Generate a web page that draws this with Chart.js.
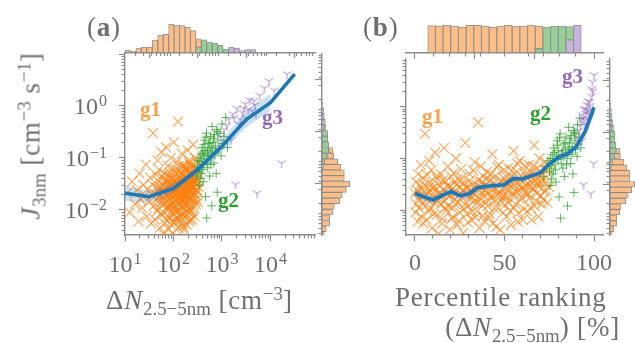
<!DOCTYPE html>
<html>
<head>
<meta charset="utf-8">
<script src="https://cdn.jsdelivr.net/npm/chart.js@4.4.1/dist/chart.umd.min.js"></script>
<style>
  html, body { margin: 0; padding: 0; background: #fff; }
  #wrap { position: relative; width: 635px; height: 343px; overflow: hidden;
          font-family: "Liberation Serif", "DejaVu Serif", serif; color: #6f6f6f; }
  #wrap canvas { position: absolute; left: 0; top: 0; }
  .t { position: absolute; white-space: nowrap; line-height: 1; font-size: 27px; letter-spacing: 0.8px; }
  .t sub, .t sup { font-size: 0.7em; position: relative; vertical-align: baseline; line-height: 0; letter-spacing: 0; }
  .t sub { top: 0.3em; }
  .t sup { top: -0.5em; }
  .g { position: absolute; line-height: 1; font-size: 21px; font-weight: bold; }
  .ylab { left: 31px; top: 136px; transform: translate(-50%, -50%) rotate(-90deg); }
</style>
</head>
<body>
<div id="wrap">
  <canvas id="topA" width="635" height="343"></canvas>
  <canvas id="rightA" width="635" height="343"></canvas>
  <canvas id="mainA" width="635" height="343"></canvas>
  <canvas id="topB" width="635" height="343"></canvas>
  <canvas id="rightB" width="635" height="343"></canvas>
  <canvas id="mainB" width="635" height="343"></canvas>

  <div class="t" style="left:87px;top:14px;">(<b>a</b>)</div>
  <div class="t" style="left:363px;top:14px;">(<b>b</b>)</div>
  <div class="t ylab"><i>J</i><sub>3nm</sub> [cm<sup>−3</sup> s<sup>−1</sup>]</div>
  <div class="t" style="left:106px;top:287px;">Δ<i>N</i><sub>2.5−5nm</sub> [cm<sup>−3</sup>]</div>
  <div class="t" style="left:395px;top:284px;">Percentile ranking</div>
  <div class="t" style="right:15px;top:314px;">(Δ<i>N</i><sub>2.5−5nm</sub>) [%]</div>

  <div class="g" style="left:140px;top:99px;color:#ff7f0e;opacity:0.75;">g1</div>
  <div class="g" style="left:218px;top:190px;color:#2ca02c;">g2</div>
  <div class="g" style="left:262px;top:107px;color:#9467bd;">g3</div>
  <div class="g" style="left:422px;top:106px;color:#ff7f0e;opacity:0.75;">g1</div>
  <div class="g" style="left:530px;top:103px;color:#2ca02c;">g2</div>
  <div class="g" style="left:562px;top:66px;color:#9467bd;">g3</div>
</div>

<script>
// ---- scatter groups, panel (a): dN [cm-3] and J [cm-3 s-1] ----
const g1N = [11, 12.5, 14, 16, 17.5, 19, 20, 21, 22.5, 24, 25.5, 27, 28, 29, 31, 33, 34.5, 36,
  37, 38, 39, 40.5, 41.5, 43, 44, 45, 46, 47,
  48, 49, 50, 51, 52, 53, 54, 55.5, 56.5, 57.5, 58.5, 59.5, 60.5, 61,
  62, 63.5, 65, 66, 67.5, 69, 70, 71.5, 73, 74, 75, 76.5, 77.5, 78.5, 79,
  80, 81, 82, 83, 84, 85, 86.5, 88, 89, 90, 91, 92, 93.5, 94.5, 95.5, 96.5, 97.5, 98.5, 99.5, 100, 101, 102, 102.5,
  104, 106, 108, 110, 112, 114, 116, 118, 120, 122, 124, 125, 126, 127, 128, 129, 130, 131, 131.5, 132, 132.5, 133,
  135, 137, 139, 141, 143, 145, 147, 149, 151, 153, 155, 157, 159, 161, 163, 165, 167, 169, 170, 171, 172, 173,
  175, 178, 181, 184, 187, 190, 193, 196, 199, 202, 205, 208, 210, 212, 214, 216, 218, 220, 221, 222, 223,
  227, 231, 235, 239, 243, 247, 251, 255, 259, 263, 267, 271, 275, 279, 282, 285, 287, 289,
  295, 302, 307, 312, 316, 321, 327,
  52.5, 55, 58, 60, 63, 66.5, 68, 72, 75.5, 78,
  81.5, 84.5, 87, 89.5, 92.5, 95, 97, 99, 101.5,
  105, 107, 109, 111, 113, 115, 117, 119, 121, 123,
  134, 136, 138, 140, 142, 144, 146, 148, 150, 152, 154, 156, 158, 160, 162, 164, 166, 168,
  174, 177, 180, 183, 186, 189, 192, 195, 198, 201, 204, 207, 209, 211, 213, 215, 217, 219,
  225, 229, 233, 237, 241, 245, 249, 253, 257, 261, 265, 269,
  292, 298, 304, 310];
const g1J = [0.021, 0.009, 0.035, 0.013, 0.024, 0.006, 0.05, 0.016, 0.011, 0.03, 0.019, 0.075, 0.0075, 0.025, 0.014, 0.042, 0.0055, 0.019,
  0.031, 0.3, 0.012, 0.021, 0.0065, 0.048, 0.016, 0.027, 0.0095, 0.09,
  0.022, 0.035, 0.011, 0.06, 0.0045, 0.018, 0.028, 0.014, 0.13, 0.024, 0.008, 0.04, 0.017, 0.0035,
  0.03, 0.013, 0.05, 0.02, 0.0068, 0.025, 0.16, 0.015, 0.036, 0.0098, 0.021, 0.07, 0.012, 0.028, 0.0042,
  0.019, 0.045, 0.011, 0.026, 0.0072, 0.034, 0.016, 0.1, 0.022, 0.0052, 0.04, 0.014, 0.029, 0.009, 0.062, 0.018, 0.024, 0.0036, 0.033, 0.013, 0.2, 0.021, 0.0085,
  0.027, 0.012, 0.05, 0.019, 0.0065, 0.032, 0.015, 0.085, 0.024, 0.0095, 0.5, 0.039, 0.017, 0.0045, 0.028, 0.07, 0.013, 0.022, 0.035, 0.0078, 0.045, 0.019,
  0.03, 0.014, 0.055, 0.021, 0.0072, 0.038, 0.017, 0.12, 0.026, 0.011, 0.046, 0.0048, 0.02, 0.075, 0.033, 0.015, 0.025, 0.0088, 0.06, 0.019, 0.041, 0.0125,
  0.035, 0.018, 0.065, 0.026, 0.0095, 0.045, 0.021, 0.14, 0.03, 0.013, 0.055, 0.006, 0.024, 0.09, 0.038, 0.017, 0.028, 0.0105, 0.07, 0.022, 0.048,
  0.042, 0.02, 0.075, 0.03, 0.011, 0.055, 0.025, 0.18, 0.036, 0.015, 0.065, 0.0075, 0.028, 0.1, 0.045, 0.019, 0.034, 0.013,
  0.05, 0.023, 0.085, 0.035, 0.014, 0.06, 0.028,
  0.026, 0.0085, 0.045, 0.015, 0.022, 0.0055, 0.038, 0.011, 0.029, 0.019,
  0.007, 0.052, 0.013, 0.031, 0.0062, 0.021, 0.042, 0.0105, 0.027,
  0.0058, 0.036, 0.016, 0.024, 0.0095, 0.058, 0.02, 0.0072, 0.031, 0.014,
  0.0062, 0.024, 0.04, 0.012, 0.028, 0.0085, 0.05, 0.019, 0.0055, 0.034, 0.015, 0.026, 0.068, 0.011, 0.022, 0.0042, 0.037, 0.017,
  0.026, 0.0075, 0.042, 0.014, 0.03, 0.0052, 0.058, 0.019, 0.011, 0.035, 0.023, 0.08, 0.0088, 0.031, 0.016, 0.046, 0.0065, 0.025,
  0.03, 0.0095, 0.05, 0.017, 0.036, 0.0065, 0.027, 0.07, 0.012, 0.042, 0.021, 0.034,
  0.038, 0.016, 0.06, 0.024];
const g2N = [300, 320, 340, 355, 370, 380, 390, 400, 410, 420, 430, 450, 460, 480, 485,
  495, 510, 525, 555, 570, 585, 600, 615, 625, 640, 660, 680, 700, 740, 760, 780, 800,
  830, 870, 910, 1000, 1040, 1100, 1200, 1300,
  310, 335, 350, 365, 375, 395, 405, 425, 445, 465, 490, 505, 530, 560, 590, 620, 670, 720, 820, 960];
const g2J = [0.045, 0.09, 0.03, 0.065, 0.12, 0.05, 0.16, 0.075, 0.035, 0.11, 0.22, 0.14, 0.018, 0.3, 0.007,
  0.12, 0.065, 0.19, 0.045, 0.15, 0.26, 0.1, 0.012, 0.4, 0.13, 0.2, 0.08, 0.28, 0.17, 0.05, 0.35, 0.022,
  0.22, 0.15, 0.3, 0.45, 0.19, 0.26, 0.6, 0.16,
  0.07, 0.055, 0.1, 0.04, 0.085, 0.13, 0.06, 0.18, 0.095, 0.25, 0.08, 0.14, 0.11, 0.2, 0.075, 0.16, 0.24, 0.12, 0.32, 0.11];
const g3N = [950, 1100, 1250, 1400, 1550, 1700, 1800, 1900, 2000, 2200, 2400, 2600, 2800, 3000, 3300, 3500, 3700,
  4200, 4500, 4800, 5000, 5300, 6000, 7500, 9300, 12000, 17000, 22000];
const g3J = [0.25, 0.35, 0.42, 0.55, 0.22, 0.7, 0.6, 0.031, 0.9, 0.45, 0.55, 0.75, 0.9, 1.1, 0.6, 0.85, 1.3,
  0.8, 1.25, 1.05, 0.7, 0.021, 1.6, 2.2, 3.0, 2.0, 0.08, 4.1];

// ---- binned medians and their band ----
const medAN = [10, 31.6, 100, 316, 1000, 3160, 10000, 31600];
const medAJ = [0.021, 0.018, 0.026, 0.06, 0.168, 0.55, 1.16, 4.1];
const bandAN = [10, 31.6, 100, 316, 1000, 3160, 10000];
const bandALo = [0.015, 0.014, 0.022, 0.052, 0.13, 0.38, 0.8];
const bandAHi = [0.03, 0.024, 0.032, 0.07, 0.22, 0.8, 1.7];

const medBP = [0, 5, 10, 15, 20, 25, 30, 35, 40, 45, 50, 55, 60, 65, 70, 75, 80, 85, 90, 95, 100];
const medBJ = [0.021, 0.018, 0.0157, 0.019, 0.0227, 0.019, 0.0205, 0.027, 0.029, 0.030, 0.031, 0.041, 0.040, 0.046, 0.053, 0.078, 0.104, 0.122, 0.168, 0.33, 0.97];
const bandBLo = [0.017, 0.015, 0.013, 0.016, 0.019, 0.016, 0.017, 0.023, 0.025, 0.026, 0.027, 0.035, 0.035, 0.04, 0.046, 0.068, 0.09, 0.105, 0.14, 0.26, 0.7];
const bandBHi = [0.026, 0.022, 0.019, 0.023, 0.027, 0.023, 0.025, 0.032, 0.034, 0.035, 0.036, 0.048, 0.046, 0.053, 0.061, 0.09, 0.12, 0.142, 0.2, 0.42, 1.3];

// ---- marginal histograms (bar heights) ----
// top (a): log10(dN) bins starting at 1.0, width 0.1125
const histALog0 = 1.0, histALogW = 0.1125;
const histAOr = [8, 6, 15, 18, 18, 39, 54, 57, 87, 85, 83, 78, 68, 25, 0, 0, 0, 0, 0, 0, 0, 0, 0, 0, 0, 0];
const histAGr = [0, 0, 0, 0, 0, 0, 0, 0, 0, 0, 0, 0, 0, 18, 40, 33, 30, 23, 12, 0, 0, 0, 0, 0, 0, 0];
const histAPu = [0, 0, 0, 0, 0, 0, 0, 0, 0, 0, 0, 0, 0, 0, 0, 0, 0, 0, 0, 18, 15, 7, 10, 10, 3, 2];
// top (b): percentile bins of 5 %
const histBOr = [83, 82, 84, 82, 79, 84, 84, 82, 79, 82, 84, 82, 82, 85, 69, 0, 0, 0, 0, 0];
const histBGr = [0, 0, 0, 0, 0, 0, 0, 0, 0, 0, 0, 0, 0, 0, 13, 79, 82, 82, 40, 0];
const histBPu = [0, 0, 0, 0, 0, 0, 0, 0, 0, 0, 0, 0, 0, 0, 0, 0, 0, 0, 40, 84];
// right (a) and (b): log10(J) bins starting at -2.526, width 0.108
const histJLog0 = -2.526, histJLogW = 0.108;
const histJOr = [7, 13, 23, 23, 33, 37, 53, 61, 73, 83, 67, 67, 54, 40, 20, 13, 0, 0, 0, 0, 0, 0, 0, 0];
const histJGr = [0, 0, 0, 0, 0, 0, 0, 0, 0, 0, 0, 0, 3, 7, 15, 20, 20, 17, 17, 7, 4, 0, 0, 0];
const histJPu = [0, 0, 0, 0, 0, 0, 0, 0, 0, 0, 0, 0, 0, 0, 0, 0, 0, 0, 0, 5, 6, 7, 5, 3];

// ---- styles ----
const SERIF = '"Liberation Serif", "DejaVu Serif", serif';
const AX = '#8c8c8c';
const TXT = '#6f6f6f';
const BLUE = '#1f77b4';
const BAND = 'rgba(31,119,180,0.22)';
const HIST = { or: '#ffbe86', gr: '#97d097', pu: '#c9b4de', edge: 'rgba(125,125,125,0.8)' };
const NMIN = 10, NMAX = 83000, JMIN = 0.0033, JMAXA = 10, JMAXB = 8.4;

// ---- helpers ----
const pts = (xs, ys) => xs.map((x, i) => ({ x: x, y: ys[i] }));
const pad = (l, t, r, b) => ({ left: l, top: t, right: 635 - r, bottom: 343 - b });
const zeroW = s => { s.width = 0; };
const zeroH = s => { s.height = 0; };
const setTicks = vals => s => { s.ticks = vals.map(v => ({ value: v })); };

function logVals(min, max, major) {
  const out = [];
  for (let e = Math.floor(Math.log10(min)); e <= Math.ceil(Math.log10(max)); e++) {
    for (let k = 1; k < 10; k++) {
      const v = k * Math.pow(10, e);
      if (v >= min * 0.999 && v <= max * 1.001 && ((k === 1) === major)) out.push(v);
    }
  }
  return out;
}

function tickAxis(type, position, min, max, vals, len, border) {
  const horiz = position === 'bottom' || position === 'top';
  return {
    type: type, position: position, min: min, max: max, bounds: 'data',
    afterFit: horiz ? zeroH : zeroW,
    afterBuildTicks: setTicks(vals),
    ticks: { display: false, autoSkip: false },
    grid: { display: true, drawOnChartArea: false, drawTicks: true, tickLength: len, tickColor: AX, tickWidth: 1.2 },
    border: { display: border, color: AX, width: 1.4 }
  };
}

function hiddenAxis(type, min, max, vals) {
  const a = { type: type, min: min, max: max, bounds: 'data', display: false, stacked: true };
  if (vals) a.afterBuildTicks = setTicks(vals);
  return a;
}

function powLabels(id, side) {
  return {
    id: 'pow_' + id,
    afterDraw(chart) {
      const s = chart.scales[id], ctx = chart.ctx, a = chart.chartArea;
      ctx.save();
      ctx.fillStyle = TXT;
      ctx.textBaseline = 'alphabetic';
      s.ticks.forEach(t => {
        const e = Math.round(Math.log10(t.value));
        if (side === 'bottom' && t.value > 10001) return;
        if (side === 'left' && t.value > 1.01) return;
        const sup = (e < 0 ? '\u2212' : '') + Math.abs(e);
        const p = s.getPixelForValue(t.value);
        ctx.font = '24px ' + SERIF;
        const w1 = ctx.measureText('10').width;
        ctx.font = '16px ' + SERIF;
        const w2 = ctx.measureText(sup).width + 1;
        let x0, y0;
        if (side === 'left') { x0 = a.left - 18 - w1 - w2; y0 = p + 8; }
        else { x0 = p - (w1 + w2) / 2; y0 = a.bottom + 36.5; }
        ctx.font = '24px ' + SERIF;
        ctx.fillText('10', x0, y0);
        ctx.font = '16px ' + SERIF;
        ctx.fillText(sup, x0 + w1 + 1, y0 - 8);
      });
      ctx.restore();
    }
  };
}

function plainLabels(id, texts) {
  return {
    id: 'plain_' + id,
    afterDraw(chart) {
      const s = chart.scales[id], ctx = chart.ctx, a = chart.chartArea;
      ctx.save();
      ctx.fillStyle = TXT;
      ctx.font = '24px ' + SERIF;
      ctx.textAlign = 'center';
      ctx.textBaseline = 'alphabetic';
      s.ticks.forEach(t => ctx.fillText(texts(t.value), s.getPixelForValue(t.value), a.bottom + 35));
      ctx.restore();
    }
  };
}

function triDown(color, r) {
  const c = document.createElement('canvas');
  c.width = c.height = 2 * r + 2;
  const g = c.getContext('2d'), m = r + 1;
  g.strokeStyle = color;
  g.lineWidth = 1;
  g.beginPath();
  g.moveTo(m, m); g.lineTo(m, m + r);
  g.moveTo(m, m); g.lineTo(m - r * 0.87, m - r * 0.5);
  g.moveTo(m, m); g.lineTo(m + r * 0.87, m - r * 0.5);
  g.stroke();
  return c;
}

function baseOptions(padding, scales) {
  return {
    responsive: false, animation: false, events: [],
    layout: { padding: padding },
    plugins: { legend: { display: false }, tooltip: { enabled: false } },
    scales: scales
  };
}

const nz = v => (v === 0 ? null : v);
function barSets(or, gr, pu, pos, horiz) {
  const mk = (vals, color) => ({
    data: vals.map((v, i) => horiz ? { x: nz(v), y: pos[i] } : { x: pos[i], y: nz(v) }),
    backgroundColor: color, borderColor: HIST.edge, borderWidth: 1, borderSkipped: false,
    barPercentage: 1, categoryPercentage: 1
  });
  // stacked from the axis outward: purple, green, orange
  return [mk(pu, HIST.pu), mk(gr, HIST.gr), mk(or, HIST.or)];
}

function scatterSets(xs1, xs2, xs3, medX, medY, bX, bLo, bHi) {
  return [
    { type: 'line', data: pts(medX, medY), borderColor: BLUE, borderWidth: 3.6, pointRadius: 0, fill: false, tension: 0, clip: 0, order: 0 },
    { type: 'line', data: pts(bX, bHi), borderColor: 'transparent', borderWidth: 0, pointRadius: 0, fill: '+1', backgroundColor: BAND, tension: 0.3, clip: 0, order: 1 },
    { type: 'line', data: pts(bX, bLo), borderColor: 'transparent', borderWidth: 0, pointRadius: 0, fill: false, tension: 0.3, clip: 0, order: 1 },
    { data: pts(xs3, g3J), pointStyle: triDown('rgba(148,103,189,0.75)', 5), pointRadius: 5, clip: 0, order: 2 },
    { data: pts(xs2, g2J), pointStyle: 'cross', pointRadius: 4.5, pointBorderColor: 'rgba(44,160,44,0.75)', pointBorderWidth: 1, clip: 0, order: 3 },
    { data: pts(xs1, g1J), pointStyle: 'crossRot', pointRadius: 7, pointBorderColor: 'rgba(255,127,14,0.7)', pointBorderWidth: 1.1, clip: 0, order: 4 }
  ];
}

// ---- panel (a) main ----
new Chart(document.getElementById('mainA'), {
  type: 'scatter',
  data: { datasets: scatterSets(g1N, g2N, g3N, medAN, medAJ, bandAN, bandALo, bandAHi) },
  options: baseOptions(pad(125, 54, 315, 235), {
    x: tickAxis('logarithmic', 'bottom', NMIN, NMAX, logVals(NMIN, NMAX, true), 6, true),
    xm: tickAxis('logarithmic', 'bottom', NMIN, NMAX, logVals(NMIN, NMAX, false), 3.5, false),
    y: tickAxis('logarithmic', 'left', JMIN, JMAXA, logVals(JMIN, JMAXA, true), 6, true),
    ym: tickAxis('logarithmic', 'left', JMIN, JMAXA, logVals(JMIN, JMAXA, false), 3.5, false)
  }),
  plugins: [powLabels('x', 'bottom'), powLabels('y', 'left')]
});

// ---- panel (a) top histogram ----
const histACenters = histAOr.map((_, i) => Math.pow(10, histALog0 + histALogW * (i + 0.5)));
new Chart(document.getElementById('topA'), {
  type: 'bar',
  data: { datasets: barSets(histAOr, histAGr, histAPu, histACenters, false) },
  options: baseOptions(pad(125, 24, 315, 53), {
    x: hiddenAxis('logarithmic', NMIN, NMAX, histACenters),
    y: hiddenAxis('linear', 0, 88),
    xt: tickAxis('logarithmic', 'bottom', NMIN, NMAX, logVals(NMIN, NMAX, true), 5, true),
    xm: tickAxis('logarithmic', 'bottom', NMIN, NMAX, logVals(NMIN, NMAX, false), 3, false)
  })
});

// ---- right histograms (J), shared by both panels ----
const histJCenters = histJOr.map((_, i) => Math.pow(10, histJLog0 + histJLogW * (i + 0.5)));
function rightHist(id, l, t, r, jmax) {
  const o = baseOptions(pad(l, t, r, 235), {
    y: hiddenAxis('logarithmic', JMIN, jmax, histJCenters),
    x: hiddenAxis('linear', 0, 84),
    yt: tickAxis('logarithmic', 'left', JMIN, jmax, logVals(JMIN, jmax, true), 7, true),
    ym: tickAxis('logarithmic', 'left', JMIN, jmax, logVals(JMIN, jmax, false), 3.5, false)
  });
  o.indexAxis = 'y';
  new Chart(document.getElementById(id), {
    type: 'bar',
    data: { datasets: barSets(histJOr, histJGr, histJPu, histJCenters, true) },
    options: o
  });
}
rightHist('rightA', 322, 54, 350, JMAXA);
rightHist('rightB', 610, 59, 635, JMAXB);

// ---- panel (b): percentile ranking of dN ----
const allN = g1N.concat(g2N, g3N).sort((a, b) => a - b);
const pctRank = v => 100 * (allN.indexOf(v) + allN.lastIndexOf(v)) / 2 / (allN.length - 1);

new Chart(document.getElementById('mainB'), {
  type: 'scatter',
  data: { datasets: scatterSets(g1N.map(pctRank), g2N.map(pctRank), g3N.map(pctRank), medBP, medBJ, medBP, bandBLo, bandBHi) },
  options: baseOptions(pad(406, 59, 603, 235), {
    x: tickAxis('linear', 'bottom', -5, 105, [0, 50, 100], 6, true),
    xm: tickAxis('linear', 'bottom', -5, 105, [10, 20, 30, 40, 60, 70, 80, 90], 3.5, false),
    y: tickAxis('logarithmic', 'left', JMIN, JMAXB, logVals(JMIN, JMAXB, true), 6, true),
    ym: tickAxis('logarithmic', 'left', JMIN, JMAXB, logVals(JMIN, JMAXB, false), 3.5, false)
  }),
  plugins: [plainLabels('x', v => String(v))]
});

const histBCenters = histBOr.map((_, i) => 2.5 + 5 * i);
new Chart(document.getElementById('topB'), {
  type: 'bar',
  data: { datasets: barSets(histBOr, histBGr, histBPu, histBCenters, false) },
  options: baseOptions(pad(406, 24, 603, 53), {
    x: hiddenAxis('linear', -5, 105, histBCenters),
    y: hiddenAxis('linear', 0, 88),
    xt: tickAxis('linear', 'bottom', -5, 105, [0, 50, 100], 6, true),
    xm: tickAxis('linear', 'bottom', -5, 105, [10, 20, 30, 40, 60, 70, 80, 90], 3.5, false)
  })
});
</script>
</body>
</html>
